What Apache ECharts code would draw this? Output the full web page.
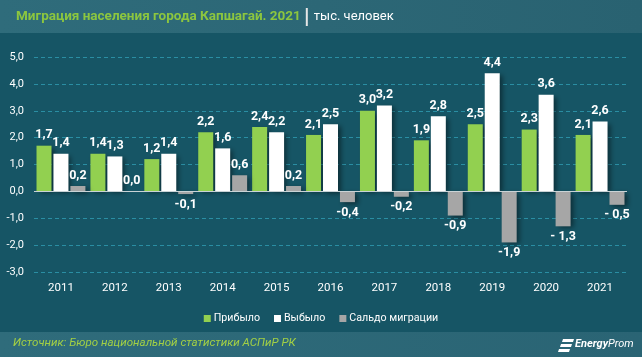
<!DOCTYPE html>
<html><head><meta charset="utf-8">
<script src="https://cdn.jsdelivr.net/npm/echarts@6/dist/echarts.min.js"></script>
<style>html,body{margin:0;padding:0;background:#165565}#c{width:642px;height:357px}</style>
</head><body><div id="c"></div>
<script>
var years = ['2011','2012','2013','2014','2015','2016','2017','2018','2019','2020','2021'];
var arrived = [1.7,1.4,1.2,2.2,2.4,2.1,3.0,1.9,2.5,2.3,2.1];
var departed = [1.4,1.3,1.4,1.6,2.2,2.5,3.2,2.8,4.4,3.6,2.6];
var balance = [0.2,0.0,-0.1,0.6,0.2,-0.4,-0.2,-0.9,-1.9,-1.3,-0.5];
var balanceLabels = ['0,2','0,0','-0,1','0,6','0,2','-0,4','-0,2','-0,9','-1,9','- 1,3','- 0,5'];
var seriesNames = ['Прибыло','Выбыло','Сальдо миграции'];
var titleText = 'Миграция населения города Капшагай. 2021';
var unitText = 'тыс. человек';
var sourceText = 'Источник: Бюро национальной статистики АСПиР РК';

var FONT = 'Roboto, "Noto Sans", Arial, sans-serif';
var ctx = document.createElement('canvas').getContext('2d');
function fitSize(text, style, target){
  ctx.font = style + ' 20px ' + FONT;
  return Math.min(16, 20 * target / ctx.measureText(text).width);
}
var titleSize = fitSize(titleText, 'bold', 285);
var unitSize = fitSize(unitText, '', 80);
var srcSize = fitSize(sourceText, 'italic', 283);
var legendSize = fitSize(seriesNames[2], '', 89);
ctx.font = 'bold ' + titleSize + 'px ' + FONT;
var titleW = ctx.measureText(titleText).width;

function fmt(v){ return v.toFixed(1).replace('.', ','); }
var shadow = {shadowColor:'rgba(0,0,0,0.45)', shadowBlur:5, shadowOffsetX:3, shadowOffsetY:2};
var labelStyle = {show:true, color:'#fff', fontWeight:'bold', fontSize:12.5, fontFamily:FONT, distance:4};

function mkSeries(name, vals, color, labels){
  return {
    name:name, type:'bar', barWidth:15, barGap:'13%',
    itemStyle:Object.assign({color:color}, shadow),
    label:labelStyle,
    data: vals.map(function(v,i){
      return {value:v, label:{position: v<0 ? 'bottom' : 'top',
        formatter: labels ? labels[i] : fmt(v)}};
    })
  };
}
var s1 = mkSeries(seriesNames[0], arrived, '#92d050');
var s2 = mkSeries(seriesNames[1], departed, '#ffffff');
var s3 = mkSeries(seriesNames[2], balance, '#a6a6a6', balanceLabels);
s3.markLine = {silent:true, symbol:'none', label:{show:false},
  lineStyle:{color:'#c9d3d6', width:1.2, type:'solid'}, data:[{yAxis:0}]};

var chart = echarts.init(document.getElementById('c'));
chart.setOption({
  backgroundColor:'#165565',
  animation:false,
  textStyle:{fontFamily:FONT},
  grid:{left:34, right:15, top:57, bottom:85},
  legend:{data:seriesNames, top:308, left:'center', icon:'rect', itemWidth:7, itemHeight:7, itemGap:14,
    textStyle:{color:'#fff', fontSize:legendSize, fontFamily:FONT, padding:[0,0,0,-2]}},
  xAxis:{type:'category', data:years, axisLine:{show:false, onZero:false}, axisTick:{show:false},
    axisLabel:{color:'#fff', fontSize:11.5, margin:10, fontFamily:FONT}},
  yAxis:{type:'value', min:-3, max:5, interval:1,
    axisLabel:{color:'#fff', fontSize:11, margin:10, fontFamily:FONT, formatter:function(v){return fmt(v);}},
    splitLine:{lineStyle:{color:'#2a8ea3', type:[4,3], width:1}},
    axisLine:{show:false}, axisTick:{show:false}},
  series:[s1,s2,s3],
  graphic:[
    {type:'rect', left:0, top:0, z:-1, shape:{width:642, height:33},
      style:{fill:new echarts.graphic.LinearGradient(0,0,1,0,[{offset:0,color:'#2f6c7b'},{offset:1,color:'#296271'}])}},
    {type:'rect', left:0, top:332, z:-1, shape:{width:642, height:25},
      style:{fill:new echarts.graphic.LinearGradient(0,0,1,0,[{offset:0,color:'#2f6c7b'},{offset:1,color:'#2a6474'}])}},
    {type:'text', left:16, top:10, style:{text:titleText, fill:'#8cc63f', font:'bold ' + titleSize + 'px ' + FONT}},
    {type:'rect', left:16 + titleW + 5, top:8, shape:{width:2, height:18}, style:{fill:'#e6e6e6'}},
    {type:'text', left:16 + titleW + 13, top:10, style:{text:unitText, fill:'#fff', font:unitSize + 'px ' + FONT}},
    {type:'text', left:13, top:337, style:{text:sourceText, fill:'#a3d044', font:'italic ' + srcSize + 'px ' + FONT}},
    {type:'polygon', shape:{points:[[563,339],[574,339],[573,342],[562,342]]}, style:{fill:'#fff'}},
    {type:'polygon', shape:{points:[[561,344],[572,344],[571,347],[560,347]]}, style:{fill:'#fff'}},
    {type:'polygon', shape:{points:[[559,349],[570,349],[569,352],[558,352]]}, style:{fill:'#fff'}},
    {type:'text', left:575, top:339, style:{rich:{a:{fill:'#fff', font:'italic bold 11px ' + FONT},b:{fill:'#fff', font:'italic 11px ' + FONT}}, text:'{a|Energy}{b|Prom}'}}
  ]
});
</script></body></html>
